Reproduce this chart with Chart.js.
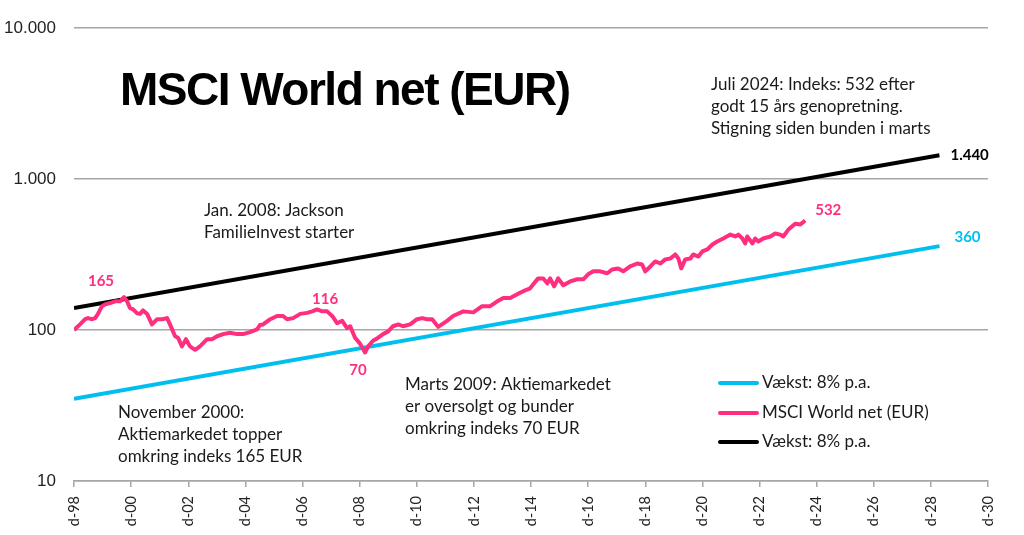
<!DOCTYPE html>
<html>
<head>
<meta charset="utf-8">
<script src="https://cdn.jsdelivr.net/npm/chart.js@4.4.1/dist/chart.umd.min.js"></script>
<style>
  html, body { margin: 0; padding: 0; background: #ffffff; }
  #wrap { width: 1024px; height: 535px; position: relative; }
</style>
</head>
<body>
<div id="wrap"><canvas id="c" width="1024" height="535"></canvas></div>
<script>
// ---- Data (x = years since December 1998) ----
const xTickValues = [0, 2, 4, 6, 8, 10, 12, 14, 16, 18, 20, 22, 24, 26, 28, 30, 32];
const xTickLabels = ['d-98','d-00','d-02','d-04','d-06','d-08','d-10','d-12','d-14','d-16','d-18','d-20','d-22','d-24','d-26','d-28','d-30'];
const yTickValues = [10, 100, 1000, 10000];
const yTickLabels = ['10', '100', '1.000', '10.000'];

const msciT = [0,0.21,0.39,0.49,0.63,0.74,0.84,0.98,1.09,1.26,1.44,1.61,1.75,1.86,1.96,2.07,2.21,2.31,2.42,2.56,2.73,2.91,3.08,3.26,3.36,3.54,3.64,3.78,3.92,4.06,4.24,4.41,4.66,4.83,5.01,5.22,5.46,5.71,5.92,6.16,6.41,6.51,6.62,6.87,7.11,7.32,7.46,7.67,7.92,8.16,8.34,8.51,8.69,8.86,9.04,9.21,9.39,9.56,9.67,9.84,10.02,10.19,10.30,10.47,10.65,10.82,11.00,11.17,11.35,11.52,11.77,12.01,12.19,12.36,12.54,12.75,13.06,13.27,13.63,13.98,14.29,14.57,14.82,15.03,15.27,15.52,15.73,15.97,16.08,16.25,16.43,16.57,16.67,16.81,16.95,17.13,17.37,17.62,17.83,18.00,18.18,18.42,18.67,18.84,19.05,19.23,19.47,19.72,19.89,20.00,20.18,20.35,20.53,20.70,20.88,21.05,21.16,21.26,21.40,21.58,21.68,21.86,22.00,22.17,22.35,22.52,22.73,22.98,23.15,23.26,23.40,23.50,23.57,23.75,23.85,23.96,24.13,24.38,24.55,24.73,24.83,25.01,25.25,25.43,25.60];
const msciV = [100,109,118,120,118,120,128,144,148,151,155,155,165,155,140,137,129,128,135,128,109,118,118,120,109,91,89,78,87,78,74,78,87,87,91,94,96,94,94,97,101,108,109,118,124,124,118,120,128,130,133,137,133,133,124,111,115,103,106,89,81,71,78,85,89,94,98,106,109,106,109,118,120,118,118,105,115,124,133,131,144,144,155,163,163,173,181,189,201,220,220,204,220,195,220,198,210,217,217,234,245,245,238,252,256,245,264,276,272,245,264,285,276,294,298,317,298,256,294,298,317,307,332,342,369,386,404,429,417,429,404,375,417,375,404,386,404,417,436,429,417,463,507,500,532];

const growthT = [0, 30.3];
const growthBlackV = [140, 1440];
const growthCyanV = [35, 360];

const seriesNames = ['Vækst: 8% p.a.', 'MSCI World net (EUR)', 'Vækst: 8% p.a.'];
const colCyan = '#00BFEF', colPink = '#FF2E7E', colBlack = '#000000';

const toXY = (ts, vs) => ts.map((t, i) => ({ x: t, y: vs[i] }));

// ---- Plugins ----
const textFont = '17px Lato, "Noto Sans", sans-serif';
const annotations = [
  { x: 120, y: 92, lines: ['MSCI World net (EUR)'], title: true },
  { x: 711, y: 85, lines: ['Juli 2024: Indeks: 532 efter', 'godt 15 års genopretning.', 'Stigning siden bunden i marts'] },
  { x: 204, y: 211, lines: ['Jan. 2008: Jackson', 'FamilieInvest starter'] },
  { x: 118, y: 413, lines: ['November 2000:', 'Aktiemarkedet topper', 'omkring indeks 165 EUR'] },
  { x: 405, y: 385, lines: ['Marts 2009: Aktiemarkedet', 'er oversolgt og bunder', 'omkring indeks 70 EUR'] }
];

const overlayPlugin = {
  id: 'overlay',
  afterDraw(chart) {
    const ctx = chart.ctx;
    const xs = chart.scales.x, ys = chart.scales.y;
    ctx.save();
    annotations.forEach(a => {
      ctx.textBaseline = 'middle';
      ctx.textAlign = 'left';
      if (a.title) {
        ctx.font = 'bold 46px "Liberation Sans", Arial, sans-serif';
        ctx.fillStyle = '#000';
        try { ctx.letterSpacing = '-1.5px'; } catch (e) {}
        ctx.fillText(a.lines[0], a.x, a.y, 452);
        try { ctx.letterSpacing = '0px'; } catch (e) {}
      } else {
        ctx.font = textFont;
        ctx.fillStyle = '#1a1a1a';
        a.lines.forEach((l, i) => ctx.fillText(l, a.x, a.y + i * 22));
      }
    });
    const lab = (text, t, v, dx, dy, color, align) => {
      ctx.font = 'bold 15px Lato, "Noto Sans", sans-serif';
      ctx.fillStyle = color;
      ctx.textAlign = align || 'center';
      ctx.textBaseline = 'middle';
      ctx.fillText(text, xs.getPixelForValue(t) + dx, ys.getPixelForValue(v) + dy);
    };
    lab('165', msciT[12], msciV[12], -23, -16, colPink);
    lab('116', msciT[51], msciV[51], 8, -10, colPink);
    lab('70', msciT[61], msciV[61], -7, 18, colPink);
    lab('532', msciT[msciT.length - 1], msciV[msciV.length - 1], 10, -10, colPink, 'left');
    lab('360', growthT[1], growthCyanV[1], 15, -9, colCyan, 'left');
    lab('1.440', growthT[1], growthBlackV[1], 11, 0, colBlack, 'left');
    const legendRows = [
      { color: colCyan, text: seriesNames[0], y: 383 },
      { color: colPink, text: seriesNames[1], y: 413 },
      { color: colBlack, text: seriesNames[2], y: 442 }
    ];
    legendRows.forEach(r => {
      ctx.strokeStyle = r.color;
      ctx.lineWidth = 4;
      ctx.lineCap = 'round';
      ctx.beginPath();
      ctx.moveTo(720, r.y);
      ctx.lineTo(757, r.y);
      ctx.stroke();
      ctx.font = textFont;
      ctx.fillStyle = '#1a1a1a';
      ctx.textAlign = 'left';
      ctx.textBaseline = 'middle';
      ctx.fillText(r.text, 762, r.y);
    });
    ctx.restore();
  }
};

new Chart(document.getElementById('c'), {
  type: 'line',
  data: {
    datasets: [
      { label: seriesNames[0], data: toXY(growthT, growthCyanV), borderColor: colCyan, borderWidth: 4, pointRadius: 0, order: 2 },
      { label: seriesNames[1], data: toXY(msciT, msciV), borderColor: colPink, borderWidth: 4, pointRadius: 0, order: 0, borderJoinStyle: 'round' },
      { label: seriesNames[2], data: toXY(growthT, growthBlackV), borderColor: colBlack, borderWidth: 4, pointRadius: 0, order: 1 }
    ]
  },
  options: {
    responsive: false,
    animation: false,
    layout: { padding: { left: 4, right: 36, top: 26, bottom: 0 } },
    plugins: { legend: { display: false }, tooltip: { enabled: false } },
    scales: {
      x: {
        type: 'linear',
        min: 0, max: 32,
        afterBuildTicks: s => { s.ticks = xTickValues.map(v => ({ value: v })); },
        afterFit: s => { s.height = 54; },
        ticks: {
          autoSkip: false, maxRotation: 90, minRotation: 90, padding: 9,
          color: '#222', font: { family: 'Lato, "Noto Sans", sans-serif', size: 14.5 },
          callback: (v, i) => xTickLabels[i]
        },
        grid: { drawOnChartArea: false, drawTicks: true, tickLength: 6, color: '#A6A6A6', lineWidth: 1.5 },
        border: { display: true, color: '#A6A6A6', width: 1.5 }
      },
      y: {
        type: 'logarithmic',
        min: 10, max: 10000,
        afterBuildTicks: s => { s.ticks = yTickValues.map(v => ({ value: v })); },
        afterFit: s => { s.width = 70; },
        ticks: {
          padding: 18, color: '#222',
          font: { family: '"Liberation Sans", Arial, sans-serif', size: 17 },
          callback: (v, i) => yTickLabels[i]
        },
        grid: { drawTicks: false, color: '#A6A6A6', lineWidth: 1.5 },
        border: { display: false }
      }
    }
  },
  plugins: [overlayPlugin]
});
</script>
</body>
</html>
